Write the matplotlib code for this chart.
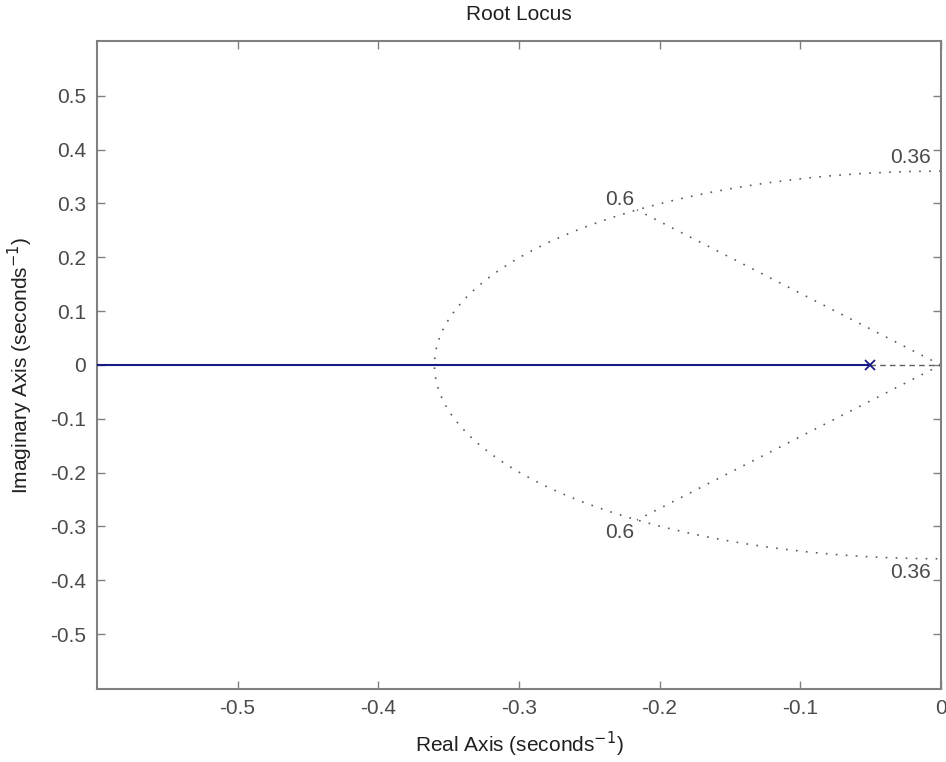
import numpy as np
import matplotlib
matplotlib.use("Agg")
import matplotlib.pyplot as plt

plt.rcParams['font.family'] = ['Liberation Sans', 'DejaVu Sans']

# open-loop pole and the real-axis branch of the locus
poles_re = [-0.05]
poles_im = [0.0]
branch_re = [-0.05, -0.61]
branch_im = [0.0, 0.0]

# s-plane grid values
zeta_vals = [0.6]
wn_vals = [0.36]

x_ticks = [-0.5, -0.4, -0.3, -0.2, -0.1, 0]
x_ticklabels = ['-0.5', '-0.4', '-0.3', '-0.2', '-0.1', '0']
y_ticks = [-0.5, -0.4, -0.3, -0.2, -0.1, 0, 0.1, 0.2, 0.3, 0.4, 0.5]
y_ticklabels = ['-0.5', '-0.4', '-0.3', '-0.2', '-0.1', '0', '0.1', '0.2', '0.3', '0.4', '0.5']

xlim = (-0.6, 0.0)
ylim = (-0.602, 0.602)

axis_gray = '#808080'
text_gray = '#4a4a4a'
grid_gray = '#5a5a5a'
fs = 15

fig = plt.figure(figsize=(9.46, 7.62), dpi=100)
ax = fig.add_axes([0.1025, 0.0958, 0.892, 0.8505])

wn_max = max(wn_vals)
dotted = (0, (1, 5))

# natural-frequency circles
for wn in wn_vals:
    th = np.linspace(np.pi / 2, 3 * np.pi / 2, 200)
    ax.plot(wn * np.cos(th), wn * np.sin(th), color=grid_gray,
            linestyle=dotted, linewidth=1.2, zorder=1)
    ax.annotate(f'{wn:g}', xy=(0, wn), xytext=(-7, 3), textcoords='offset points',
                ha='right', va='bottom', fontsize=fs, color=text_gray)
    ax.annotate(f'{wn:g}', xy=(0, -wn), xytext=(-7, -3), textcoords='offset points',
                ha='right', va='top', fontsize=fs, color=text_gray)

# damping-ratio rays
for z in zeta_vals:
    wd = np.sqrt(1 - z ** 2)
    for sgn in (1, -1):
        ax.plot([0, -z * wn_max], [0, sgn * wd * wn_max], color=grid_gray,
                linestyle=dotted, linewidth=1.2, zorder=1)
    ax.annotate(f'{z:g}', xy=(-z * wn_max, wd * wn_max), xytext=(-2, 1),
                textcoords='offset points', ha='right', va='bottom',
                fontsize=fs, color=text_gray)
    ax.annotate(f'{z:g}', xy=(-z * wn_max, -wd * wn_max), xytext=(-2, -2),
                textcoords='offset points', ha='right', va='top',
                fontsize=fs, color=text_gray)

# damping = 1 segment between pole and origin
ax.plot([poles_re[0], 0], [0, 0], color='#606060', linestyle=(0, (4, 3)),
        linewidth=1.0, zorder=2)

# locus branch and pole
ax.plot(branch_re, branch_im, color='#1a1a85', linewidth=1.5, zorder=3)
ax.plot(poles_re, poles_im, linestyle='none', marker='x', color='#1a1a85',
        markersize=7, markeredgewidth=1.3, zorder=4)

ax.set_xlim(*xlim)
ax.set_ylim(*ylim)
ax.set_xticks(x_ticks)
ax.set_xticklabels(x_ticklabels)
ax.set_yticks(y_ticks)
ax.set_yticklabels(y_ticklabels)

for sp in ax.spines.values():
    sp.set_color(axis_gray)
    sp.set_linewidth(1.5)
ax.tick_params(direction='in', length=6, width=1, color=axis_gray,
               labelcolor=text_gray, labelsize=fs, top=True, right=True)
ax.tick_params(axis='x', pad=7)
ax.tick_params(axis='y', pad=8)

ax.set_title('Root Locus', fontsize=fs, color='#202020', pad=15)
ax.set_xlabel('Real Axis (seconds$^{-1}$)', fontsize=fs, color='#202020', labelpad=9)
ax.set_ylabel('Imaginary Axis (seconds$^{-1}$)', fontsize=fs, color='#202020', labelpad=11)

fig.savefig('out.png', dpi=100)
